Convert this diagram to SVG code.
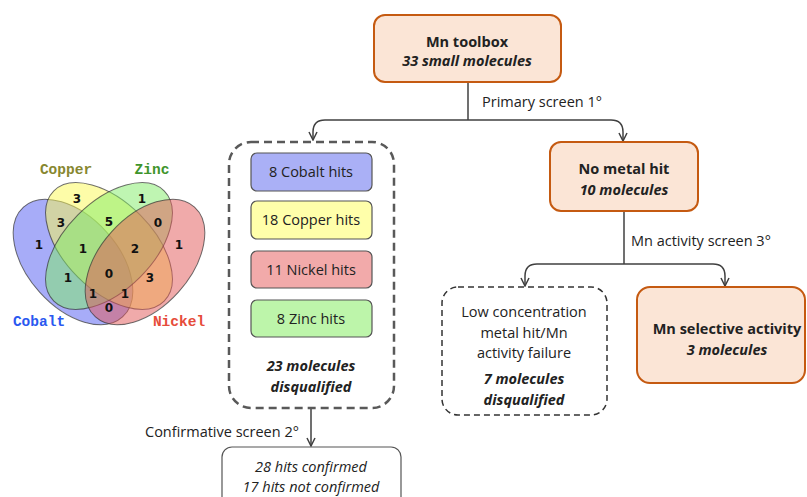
<svg xmlns="http://www.w3.org/2000/svg" width="807" height="497" viewBox="0 0 807 497">
<defs>
<style>
text{font-family:"Open Sans","Liberation Sans",sans-serif;font-size:14.5px;fill:#222;text-anchor:middle}
.b{font-weight:bold}
.bi{font-weight:bold;font-style:italic}
.i{font-style:italic}
.l{text-anchor:start}
.main{fill:#fbe5d6;stroke:#c55a11;stroke-width:2}
.hit{stroke:#555;stroke-width:1.2}
.con{fill:none;stroke:#404040;stroke-width:1.5}
text.vn{font-family:"DejaVu Sans",sans-serif;font-weight:bold;font-size:12px;fill:#111}
text.vl{font-family:"Liberation Mono",monospace;font-weight:bold;font-size:14.5px}
text.cu{fill:#878730}
text.zn{fill:#3f952c}
text.co{fill:#2a58f0}
text.ni{fill:#e64c3a}
.el{stroke:#333;stroke-opacity:0.7;stroke-width:1;fill-opacity:0.5}
</style>
<marker id="ah" viewBox="0 0 10 10" refX="9" refY="5" markerWidth="10" markerHeight="10" markerUnits="userSpaceOnUse" orient="auto">
<path d="M1,1 L9,5 L1,9" fill="none" stroke="#404040" stroke-width="1.5"/>
</marker>
</defs>

<g id="venn">
<ellipse class="el" fill="#5059f1" cx="0" cy="0" rx="74" ry="45" transform="translate(73,262) rotate(48)"/>
<ellipse class="el" fill="#fbf951" cx="0" cy="0" rx="78" ry="44" transform="translate(109,246) rotate(45)"/>
<ellipse class="el" fill="#7feb65" cx="0" cy="0" rx="78" ry="44" transform="translate(109,246) rotate(-45)"/>
<ellipse class="el" fill="#e15555" cx="0" cy="0" rx="74" ry="45" transform="translate(145,262) rotate(-48)"/>
<text class="vl cu" x="66" y="174">Copper</text>
<text class="vl zn" x="152" y="174">Zinc</text>
<text class="vl co" x="39" y="326">Cobalt</text>
<text class="vl ni" x="179" y="326">Nickel</text>
<text class="vn" x="77" y="203">3</text>
<text class="vn" x="142" y="203">1</text>
<text class="vn" x="61" y="227">3</text>
<text class="vn" x="109" y="226">5</text>
<text class="vn" x="158" y="227">0</text>
<text class="vn" x="39" y="249">1</text>
<text class="vn" x="83" y="253">1</text>
<text class="vn" x="135" y="253">2</text>
<text class="vn" x="179" y="249">1</text>
<text class="vn" x="68" y="282">1</text>
<text class="vn" x="109" y="278">0</text>
<text class="vn" x="150" y="282">3</text>
<text class="vn" x="93" y="298">1</text>
<text class="vn" x="125" y="298">1</text>
<text class="vn" x="109" y="312">0</text>
</g>

<g id="connectors">
<path class="con" d="M468,82 V120"/>
<path class="con" d="M468,120 H325 Q313,120 313,132 V140" marker-end="url(#ah)"/>
<path class="con" d="M468,120 H611 Q623,120 623,132 V141" marker-end="url(#ah)"/>
<path class="con" d="M624,211 V264"/>
<path class="con" d="M624,264 H537 Q525,264 525,276 V286" marker-end="url(#ah)"/>
<path class="con" d="M624,264 H713 Q725,264 725,276 V286" marker-end="url(#ah)"/>
<path class="con" d="M311,408 V446" marker-end="url(#ah)"/>
<text class="l" x="482" y="107">Primary screen 1°</text>
<text class="l" x="631" y="246">Mn activity screen 3°</text>
<text class="l" x="145" y="437">Confirmative screen 2°</text>
</g>

<g id="toolbox">
<rect class="main" x="374" y="15" width="187" height="67" rx="11"/>
<text class="b" x="467" y="47">Mn toolbox</text>
<text class="bi" x="467" y="66">33 small molecules</text>
</g>

<g id="metal-hits">
<rect x="229" y="142" width="165" height="266" rx="22" fill="none" stroke="#595959" stroke-width="2.5" stroke-dasharray="8 5"/>
<text class="bi" x="311" y="371">23 molecules</text>
<text class="bi" x="311" y="392">disqualified</text>
</g>
<g id="cobalt">
<rect class="hit" x="251" y="153" width="121" height="38" rx="6" fill="#aab0f6"/>
<text x="311" y="177">8 Cobalt hits</text>
</g>
<g id="copper">
<rect class="hit" x="251" y="201" width="121" height="38" rx="6" fill="#ffffaa"/>
<text x="311" y="225">18 Copper hits</text>
</g>
<g id="nickel">
<rect class="hit" x="251" y="251" width="121" height="37" rx="6" fill="#f2aaaa"/>
<text x="311" y="275">11 Nickel hits</text>
</g>
<g id="zinc">
<rect class="hit" x="251" y="300" width="121" height="37" rx="6" fill="#bdf5aa"/>
<text x="311" y="324">8 Zinc hits</text>
</g>

<g id="no-metal-hit">
<rect class="main" x="550" y="142" width="148" height="69" rx="11"/>
<text class="b" x="624" y="174">No metal hit</text>
<text class="bi" x="624" y="195">10 molecules</text>
</g>

<g id="low-conc">
<rect x="442" y="287" width="165" height="128" rx="16" fill="none" stroke="#333" stroke-width="1.5" stroke-dasharray="6 4"/>
<text x="524" y="317">Low concentration</text>
<text x="524" y="338">metal hit/Mn</text>
<text x="524" y="358">activity failure</text>
<text class="bi" x="524" y="384">7 molecules</text>
<text class="bi" x="524" y="405">disqualified</text>
</g>

<g id="mn-selective">
<rect class="main" x="637" y="287" width="168" height="96" rx="13"/>
<text class="b" x="727" y="334">Mn selective activity</text>
<text class="bi" x="727" y="355">3 molecules</text>
</g>

<g id="confirmed">
<rect x="222" y="447" width="179" height="64" rx="10" fill="#fff" stroke="#555" stroke-width="1.2"/>
<text class="i" x="311" y="472">28 hits confirmed</text>
<text class="i" x="311" y="492">17 hits not confirmed</text>
</g>
</svg>
